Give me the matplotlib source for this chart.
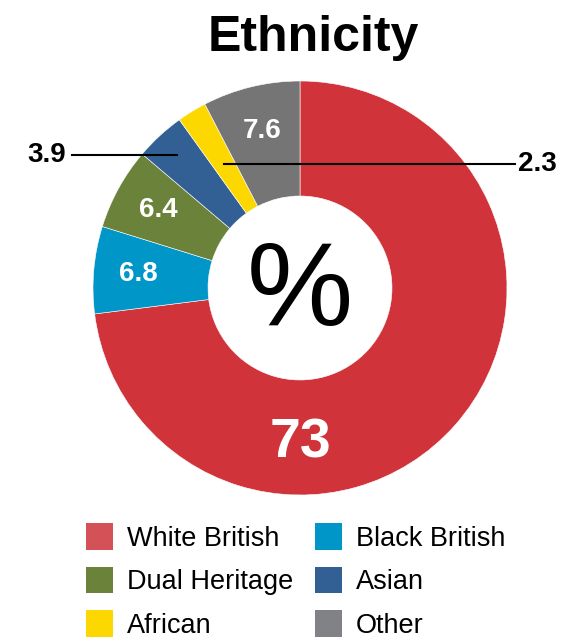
import numpy as np
import matplotlib
matplotlib.use("Agg")
import matplotlib.pyplot as plt
from matplotlib.patches import Patch

plt.rcParams['font.family'] = ['Liberation Sans', 'DejaVu Sans']

# Data
groups = ['White British', 'Black British', 'Dual Heritage', 'Asian', 'African', 'Other']
shares = [73, 6.8, 6.4, 3.9, 2.3, 7.6]
value_labels = ['73', '6.8', '6.4', '3.9', '2.3', '7.6']

# colours (donut / legend swatches)
wedge_colors = ['#d0333a', '#0096c8', '#6b823a', '#336094', '#fcd800', '#757575']
legend_colors = ['#d45158', '#0096c8', '#6b823a', '#336094', '#fcd800', '#808285']

W, H = 563, 641
fig = plt.figure(figsize=(W / 100, H / 100), dpi=100)
ax = fig.add_axes([0, 0, 1, 1])

cx, cy = 300, H - 288
R_out, R_in = 207, 92

ax.pie(shares, colors=wedge_colors, startangle=90, counterclock=False,
       center=(cx, cy), radius=R_out,
       wedgeprops=dict(width=R_out - R_in, edgecolor='white', linewidth=0.4))
ax.set_xlim(0, W)
ax.set_ylim(0, H)
ax.set_aspect('equal')
ax.axis('off')

# wedge middle angles
fracs = np.array(shares) / sum(shares)
cum = np.concatenate([[0], np.cumsum(fracs)])
mids = 90 - 360 * (cum[:-1] + cum[1:]) / 2


def polar(angle, r):
    a = np.radians(angle)
    return cx + r * np.cos(a), cy + r * np.sin(a)


# labels inside the ring
for i in [1, 2, 5]:
    x, y = polar(mids[i], 162)
    ax.text(x, y, value_labels[i], color='white', fontsize=20, fontweight='bold',
            ha='center', va='center')

x, y = polar(-90, 156)
ax.text(x, y, value_labels[0], color='white', fontsize=40, fontweight='bold',
        ha='center', va='center')

# callouts for the thin slices
x, y = polar(mids[3], 181)
ax.plot([72, x], [y, y], color='black', lw=1.5)
ax.text(66, y, value_labels[3], fontsize=20, fontweight='bold', ha='right', va='center')

x, y = polar(mids[4], 145)
ax.plot([x, 515], [y, y], color='black', lw=1.5)
ax.text(518, y, value_labels[4], fontsize=20, fontweight='bold', ha='left', va='center')

ax.text(cx, cy - 7, '%', fontsize=86, ha='center', va='center')

fig.text(313 / W, 1 - 38 / H, 'Ethnicity', fontsize=36, fontweight='bold',
         ha='center', va='center')

# legend fills column by column, reorder so it reads row-wise
order = [0, 2, 4, 1, 3, 5]
handles = [Patch(facecolor=legend_colors[i], edgecolor='none') for i in order]
fig.legend(handles, [groups[i] for i in order], ncol=2, frameon=False, fontsize=19.5,
           loc='upper left', bbox_to_anchor=(86 / W, 1 - 523 / H),
           borderpad=0, borderaxespad=0, handlelength=1.0, handleheight=1.15,
           handletextpad=0.52, columnspacing=0.78, labelspacing=0.55)

fig.savefig('out.png', dpi=100)
